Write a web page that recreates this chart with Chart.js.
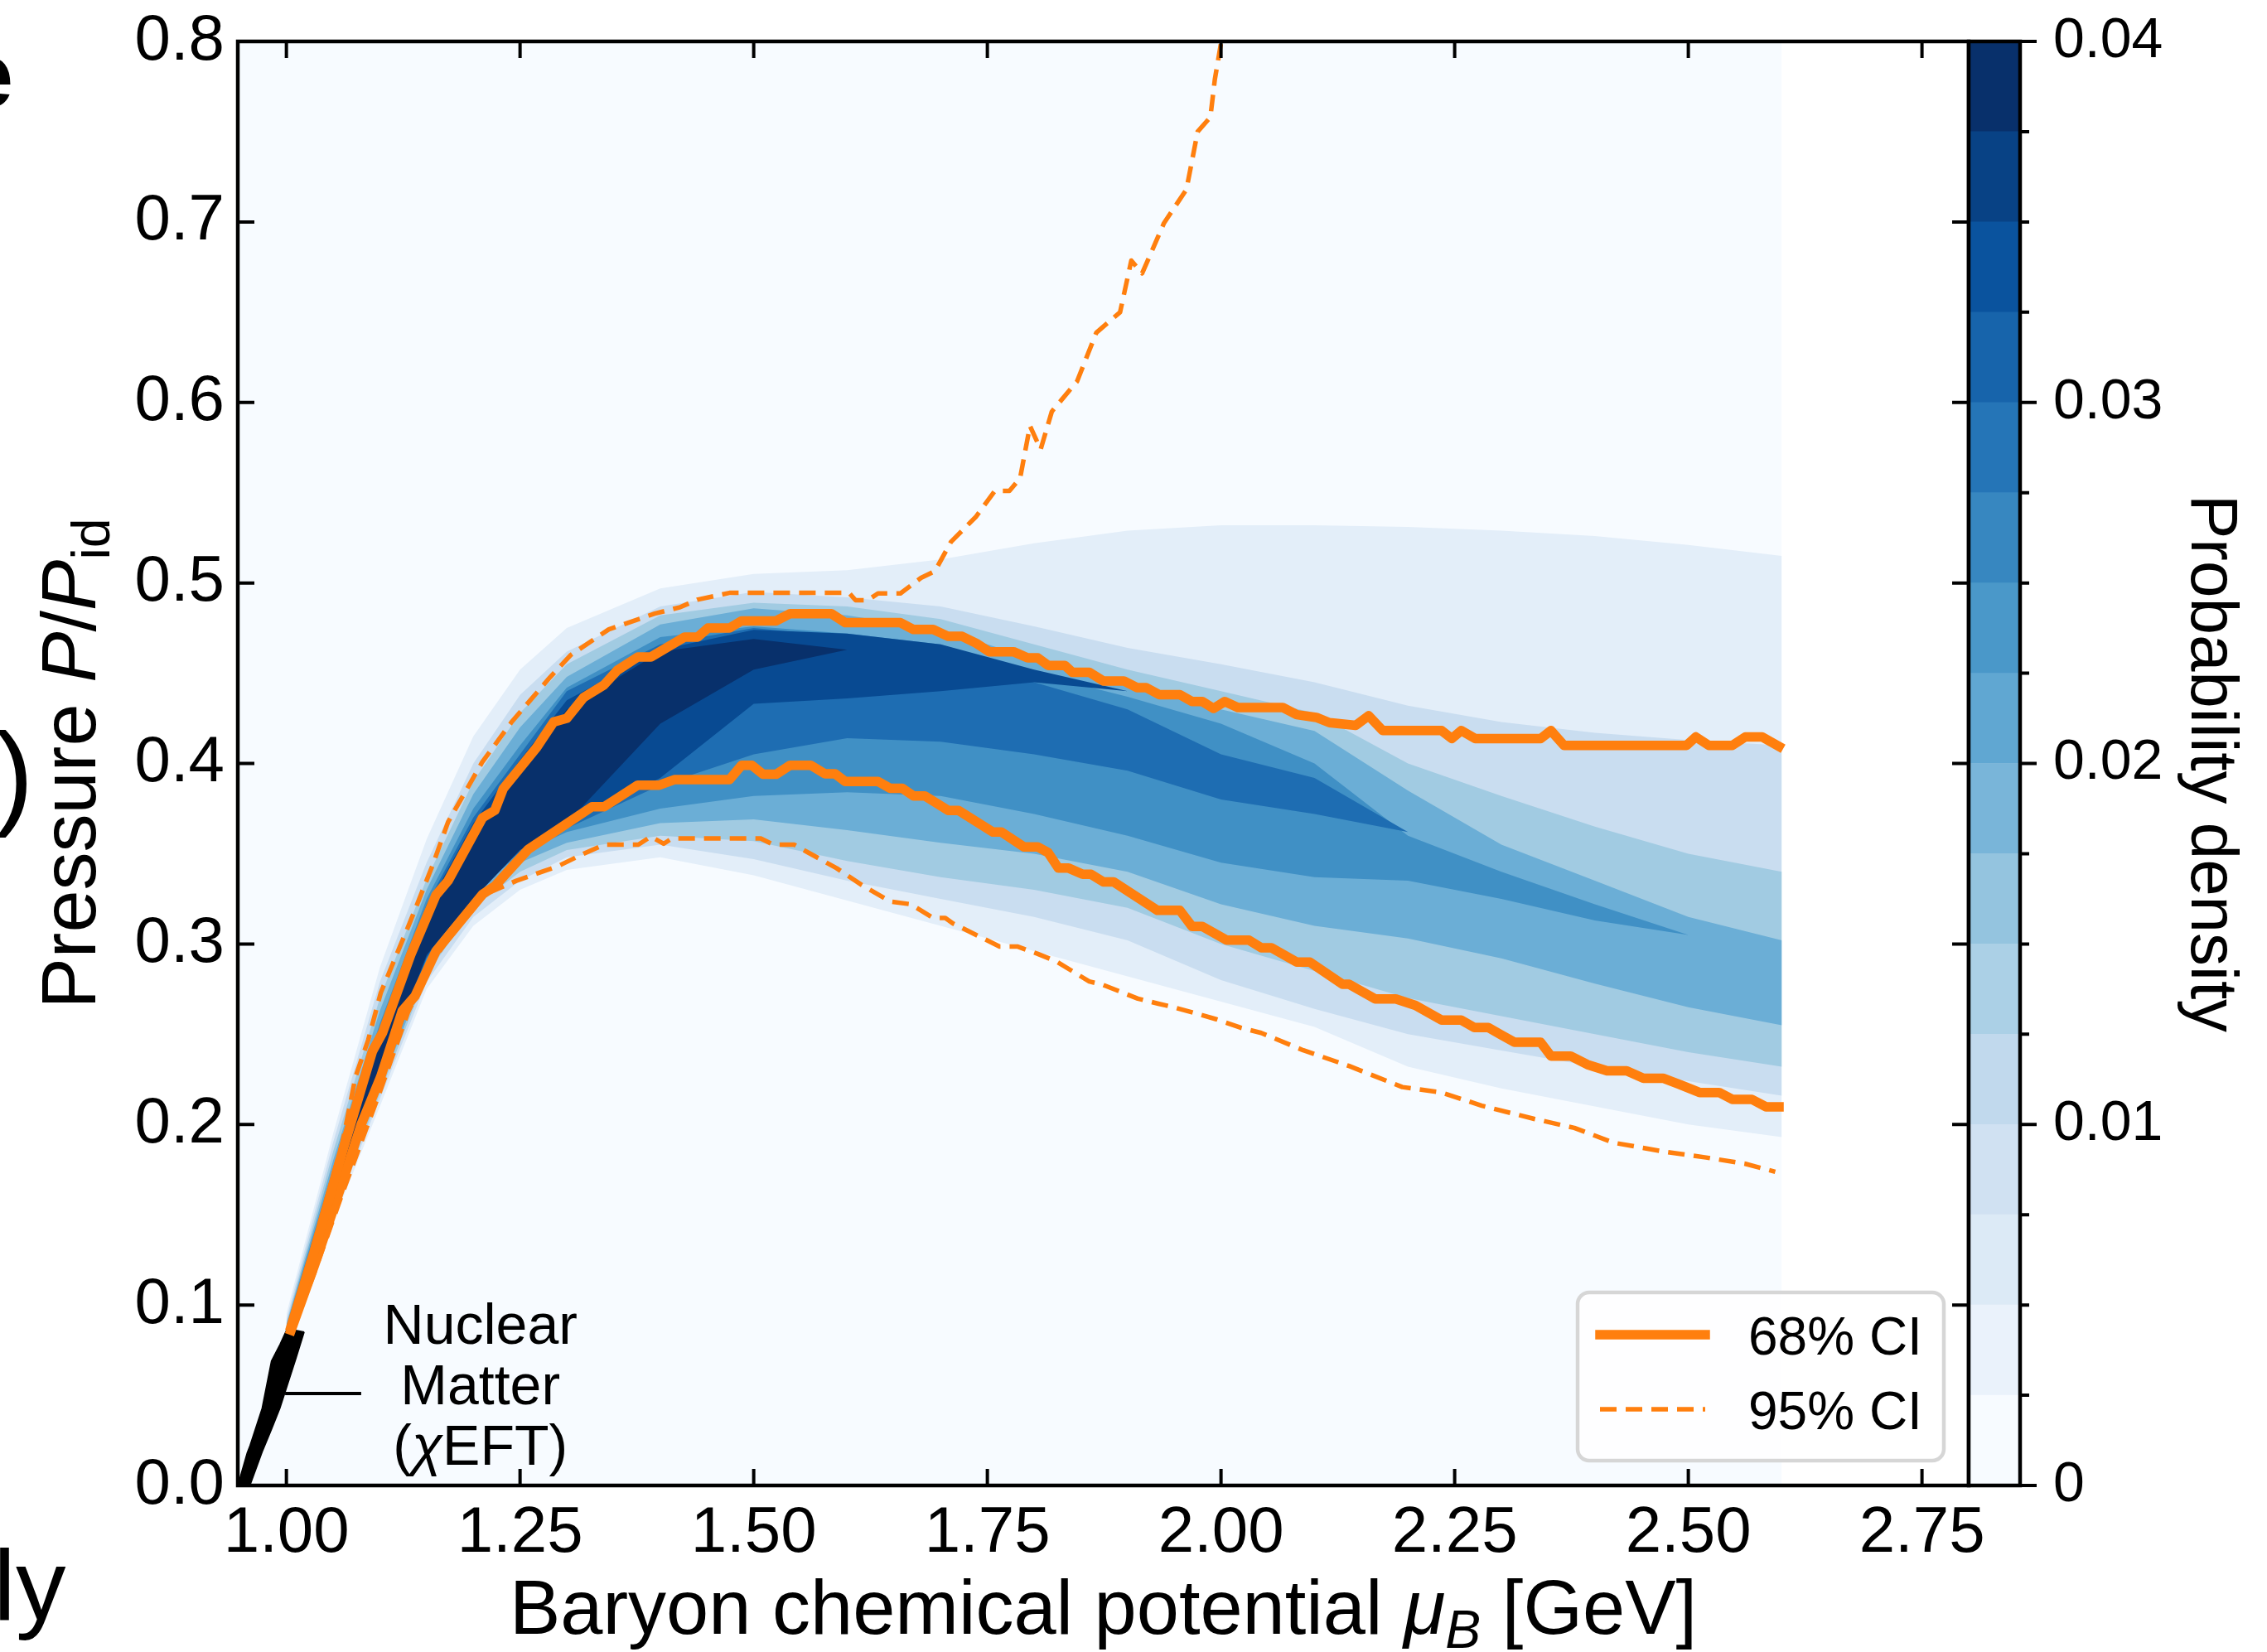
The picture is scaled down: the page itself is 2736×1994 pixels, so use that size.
<!DOCTYPE html>
<html>
<head>
<meta charset="utf-8">
<script src="https://cdn.jsdelivr.net/npm/chart.js@4.4.1/dist/chart.umd.min.js"></script>
<style>
  body { margin: 0; width: 2736px; height: 1994px; position: relative; overflow: hidden; background: #fff; }
  canvas { position: absolute; top: 0; }
  .frag { position: absolute; font-family: 'Liberation Sans', Arial, sans-serif; line-height: 1; color: #000; white-space: nowrap; }
</style>
</head>
<body>
<canvas id="main" width="2736" height="1994" style="left:0"></canvas>
<canvas id="cbar" width="436" height="1994" style="left:2300px"></canvas>
<div class="frag" style="left:-46px; top:35px; font-size:112px; font-weight:bold">e</div>
<div class="frag" style="left:-6px; top:864px; font-size:140px">)</div>
<div class="frag" style="left:-8px; top:1853px; font-size:121px">ly</div>
<script>
const FONT = "'Liberation Sans', Arial, Helvetica, sans-serif";

// axes
const muRange = [0.948, 2.8];
const pressureRange = [0, 0.8];
const muTicks = [1.0, 1.25, 1.5, 1.75, 2.0, 2.25, 2.5, 2.75];
const pressureTicks = [0, 0.1, 0.2, 0.3, 0.4, 0.5, 0.6, 0.7, 0.8];

// colour bar
const densityLevels = [0, 0.0025, 0.005, 0.0075, 0.01, 0.0125, 0.015, 0.0175, 0.02,
  0.0225, 0.025, 0.0275, 0.03, 0.0325, 0.035, 0.0375, 0.04];
const densityTicks = [0, 0.01, 0.02, 0.03, 0.04];

// probability density, drawn as nested level bands (level index into densityLevels)
const heatMuExtent = [0.948, 2.6];
const heatMu = [1.0, 1.05, 1.1, 1.15, 1.2, 1.25, 1.3, 1.4, 1.5, 1.6, 1.7, 1.8, 1.9, 2.0, 2.1, 2.2, 2.3, 2.4, 2.5, 2.6];
const bandLevels = [1, 3, 5, 7, 9, 11, 13, 15];
const band1Hi = [0.095, 0.195, 0.287, 0.358, 0.415, 0.452, 0.475, 0.497, 0.505, 0.507, 0.513, 0.522, 0.529, 0.532, 0.532, 0.531, 0.529, 0.526, 0.521, 0.515];
const band1Lo = [0.082, 0.146, 0.21, 0.275, 0.31, 0.33, 0.341, 0.348, 0.338, 0.324, 0.31, 0.296, 0.282, 0.268, 0.254, 0.232, 0.22, 0.21, 0.2, 0.193];
const band3Hi = [0.092, 0.19, 0.279, 0.345, 0.4, 0.438, 0.462, 0.487, 0.495, 0.492, 0.487, 0.476, 0.464, 0.455, 0.445, 0.432, 0.423, 0.417, 0.413, 0.41];
const band3Lo = [0.083, 0.149, 0.214, 0.279, 0.315, 0.335, 0.348, 0.355, 0.347, 0.335, 0.325, 0.315, 0.302, 0.28, 0.264, 0.25, 0.241, 0.232, 0.224, 0.216];
const band5Hi = [0.09, 0.185, 0.27, 0.336, 0.39, 0.428, 0.455, 0.482, 0.489, 0.487, 0.48, 0.466, 0.452, 0.44, 0.428, 0.4, 0.382, 0.365, 0.35, 0.34];
const band5Lo = [0.084, 0.151, 0.217, 0.283, 0.32, 0.34, 0.352, 0.36, 0.357, 0.346, 0.337, 0.33, 0.32, 0.3, 0.285, 0.27, 0.26, 0.25, 0.24, 0.232];
const band7Hi = [0.089, 0.18, 0.263, 0.33, 0.383, 0.42, 0.448, 0.477, 0.486, 0.482, 0.474, 0.458, 0.443, 0.43, 0.418, 0.385, 0.355, 0.335, 0.315, 0.302];
const band7Lo = [0.0845, 0.153, 0.22, 0.286, 0.324, 0.345, 0.356, 0.367, 0.369, 0.363, 0.356, 0.35, 0.34, 0.322, 0.31, 0.303, 0.292, 0.278, 0.265, 0.255];
const band9Hi = [0.088, 0.176, 0.256, 0.325, 0.375, 0.41, 0.442, 0.47, 0.476, 0.472, 0.466, 0.45, 0.437, 0.422, 0.4, 0.36, 0.34, 0.322, 0.305, 0.3];
const band9Lo = [0.085, 0.155, 0.222, 0.29, 0.328, 0.35, 0.362, 0.375, 0.382, 0.384, 0.382, 0.372, 0.36, 0.345, 0.337, 0.335, 0.325, 0.313, 0.305, 0.3];
const band11Hi = [0.087, 0.172, 0.252, 0.322, 0.37, 0.405, 0.44, 0.466, 0.475, 0.47, 0.462, 0.445, 0.43, 0.405, 0.392, 0.362, 0.345, 0.33, 0.315, 0.305];
const band11Lo = [0.086, 0.156, 0.224, 0.292, 0.33, 0.351, 0.364, 0.388, 0.405, 0.414, 0.412, 0.405, 0.396, 0.38, 0.372, 0.362, 0.345, 0.33, 0.315, 0.305];
const band13Hi = [0.087, 0.171, 0.25, 0.32, 0.367, 0.402, 0.435, 0.463, 0.474, 0.472, 0.466, 0.452, 0.44, 0.39, 0.38, 0.362, 0.345, 0.33, 0.315, 0.305];
const band13Lo = [0.086, 0.157, 0.225, 0.293, 0.332, 0.353, 0.366, 0.392, 0.433, 0.436, 0.44, 0.445, 0.44, 0.39, 0.38, 0.362, 0.345, 0.33, 0.315, 0.305];
const band15Hi = [0.087, 0.168, 0.245, 0.316, 0.358, 0.395, 0.43, 0.462, 0.469, 0.463, 0.46, 0.45, 0.44, 0.39, 0.38, 0.362, 0.345, 0.33, 0.315, 0.305];
const band15Lo = [0.086, 0.158, 0.226, 0.294, 0.325, 0.352, 0.367, 0.422, 0.452, 0.463, 0.46, 0.45, 0.44, 0.39, 0.38, 0.362, 0.345, 0.33, 0.315, 0.305];
const bandEdges = [[band1Hi, band1Lo], [band3Hi, band3Lo], [band5Hi, band5Lo], [band7Hi, band7Lo],
  [band9Hi, band9Lo], [band11Hi, band11Lo], [band13Hi, band13Lo], [band15Hi, band15Lo]];

// credible intervals [mu_B, P/P_id]
const ci68Upper = [[1.005,0.088],[1.03,0.13],[1.06,0.185],[1.092,0.2405],[1.103,0.251],[1.133,0.294],[1.16,0.327],[1.173,0.335],
  [1.21,0.37],[1.223,0.374],[1.232,0.386],[1.268,0.409],[1.286,0.423],[1.3,0.425],[1.318,0.4365],[1.34,0.4436],[1.354,0.4516],
  [1.376,0.459],[1.39,0.459],[1.426,0.47],[1.44,0.47],[1.451,0.475],[1.474,0.475],[1.487,0.479],[1.524,0.479],[1.539,0.483],
  [1.583,0.483],[1.598,0.478],[1.657,0.478],[1.671,0.4742],[1.692,0.4742],[1.708,0.4704],[1.723,0.4704],[1.738,0.4666],
  [1.752,0.4619],[1.778,0.4619],[1.793,0.4585],[1.804,0.4585],[1.815,0.4543],[1.833,0.4543],[1.841,0.4505],[1.859,0.4505],
  [1.874,0.4457],[1.896,0.4457],[1.91,0.442],[1.92,0.442],[1.934,0.4381],[1.956,0.4381],[1.969,0.4343],[1.98,0.4343],
  [1.992,0.4305],[2.004,0.4343],[2.018,0.431],[2.066,0.431],[2.081,0.427],[2.102,0.4255],[2.116,0.4226],[2.144,0.4211],
  [2.158,0.4264],[2.173,0.4182],[2.236,0.4182],[2.247,0.4138],[2.257,0.4182],[2.272,0.4138],[2.342,0.4138],[2.353,0.4182],
  [2.367,0.41],[2.498,0.41],[2.508,0.4147],[2.522,0.41],[2.547,0.41],[2.561,0.4147],[2.579,0.4147],[2.597,0.4094]];
const ci68Lower = [[1.005,0.086],[1.03,0.122],[1.06,0.168],[1.08,0.2],[1.101,0.2265],[1.124,0.263],[1.1375,0.271],[1.16,0.296],
  [1.21,0.3276],[1.223,0.332],[1.237,0.34],[1.259,0.3525],[1.327,0.376],[1.34,0.376],[1.376,0.388],[1.399,0.388],[1.415,0.391],
  [1.474,0.391],[1.487,0.399],[1.498,0.399],[1.51,0.394],[1.524,0.394],[1.539,0.399],[1.561,0.399],[1.576,0.3943],[1.587,0.3943],
  [1.598,0.39],[1.633,0.39],[1.646,0.3862],[1.659,0.3862],[1.671,0.382],[1.683,0.382],[1.708,0.374],[1.719,0.374],[1.756,0.362],
  [1.765,0.362],[1.789,0.3538],[1.804,0.3538],[1.815,0.3506],[1.826,0.342],[1.837,0.342],[1.852,0.3386],[1.861,0.3386],
  [1.874,0.3344],[1.885,0.3344],[1.932,0.3186],[1.956,0.3186],[1.969,0.3097],[1.98,0.3097],[2.006,0.3021],[2.03,0.3021],
  [2.043,0.2979],[2.054,0.2979],[2.081,0.29],[2.095,0.29],[2.13,0.2777],[2.137,0.2777],[2.165,0.2695],[2.187,0.2695],[2.208,0.266],
  [2.236,0.2578],[2.257,0.2578],[2.271,0.2537],[2.286,0.2537],[2.3,0.2496],[2.314,0.2455],[2.342,0.2455],[2.353,0.2379],
  [2.374,0.2379],[2.392,0.2332],[2.413,0.2297],[2.434,0.2297],[2.452,0.2256],[2.473,0.2256],[2.491,0.2221],[2.512,0.2177],
  [2.533,0.2177],[2.547,0.2139],[2.568,0.2139],[2.583,0.2098],[2.597,0.2098]];
const ci95Upper = [[1.005,0.09],[1.03,0.135],[1.06,0.19],[1.074,0.2265],[1.0875,0.2468],[1.101,0.273],[1.1326,0.3125],[1.156,0.343],
  [1.173,0.3676],[1.2095,0.4007],[1.2413,0.4232],[1.282,0.4477],[1.304,0.46],[1.345,0.4743],[1.394,0.483],[1.4215,0.4866],
  [1.4395,0.4907],[1.474,0.4945],[1.602,0.4945],[1.609,0.4904],[1.622,0.4904],[1.633,0.4942],[1.657,0.4942],[1.679,0.5028],
  [1.694,0.5066],[1.711,0.5227],[1.738,0.5368],[1.758,0.551],[1.7736,0.551],[1.785,0.558],[1.7956,0.587],[1.807,0.574],
  [1.819,0.595],[1.846,0.6117],[1.8665,0.6386],[1.892,0.65],[1.904,0.6786],[1.9156,0.6715],[1.939,0.6994],[1.963,0.718],
  [1.975,0.75],[1.9886,0.758],[1.9934,0.779],[2.0003,0.8]];
const ci95Lower = [[1.005,0.084],[1.03,0.118],[1.06,0.162],[1.1,0.218],[1.13,0.262],[1.156,0.29],[1.1826,0.31],[1.2095,0.3267],
  [1.246,0.335],[1.291,0.3432],[1.318,0.35],[1.34,0.355],[1.3766,0.355],[1.39,0.3595],[1.4036,0.3555],[1.4127,0.3585],
  [1.5075,0.3585],[1.521,0.355],[1.5435,0.355],[1.557,0.351],[1.5886,0.342],[1.6155,0.3327],[1.646,0.3235],[1.668,0.322],
  [1.692,0.3144],[1.705,0.3144],[1.713,0.3114],[1.763,0.2986],[1.782,0.2986],[1.804,0.2945],[1.824,0.2903],[1.859,0.2792],
  [1.874,0.2773],[1.911,0.2697],[1.933,0.2669],[1.949,0.265],[1.969,0.2621],[1.995,0.2583],[2.021,0.2536],[2.043,0.2507],
  [2.088,0.2411],[2.137,0.2324],[2.194,0.2207],[2.236,0.2177],[2.279,0.2104],[2.335,0.2031],[2.378,0.1981],[2.42,0.1899],
  [2.477,0.1847],[2.519,0.1817],[2.561,0.1782],[2.593,0.1738]];

// chiral EFT band near saturation
const eftMu = [0.948, 0.958, 0.961, 0.974, 0.984, 0.993, 1.001, 1.01, 1.019];
const eftHi = [0, 0.018, 0.022, 0.0427, 0.069, 0.078, 0.087, 0.086, 0.085];
const eftLo = [0, 0, 0, 0.0185, 0.031, 0.0427, 0.0555, 0.07, 0.085];

// annotation
const noteLines = ['Nuclear', 'Matter', '(χEFT)'];
const noteAnchor = [1.2075, 0.045];
const noteLeaderMu = [0.9986, 1.08];
const noteLeaderP = 0.051;

const ORANGE = '#ff7f0e';
const bluesAnchors = ['#f7fbff', '#deebf7', '#c6dbef', '#9ecae1', '#6baed6', '#4292c6', '#2171b5', '#08519c', '#08306b'];
function blues(t) {
  const p = Math.max(0, Math.min(1, t)) * 8;
  const i = Math.min(7, Math.floor(p));
  const f = p - i;
  const a = bluesAnchors[i], b = bluesAnchors[i + 1];
  const c = k => Math.round(parseInt(a.substr(k, 2), 16) * (1 - f) + parseInt(b.substr(k, 2), 16) * f);
  return `rgb(${c(1)},${c(3)},${c(5)})`;
}
const pts = arr => arr.map(([x, y]) => ({x, y}));

const datasets = [];
datasets.push({
  data: heatMuExtent.map(m => ({x: m, y: pressureRange[1]})),
  fill: 'origin', backgroundColor: blues(0), borderWidth: 0, order: 100
});
bandEdges.forEach(([hi, lo], k) => {
  const lvl = bandLevels[k];
  const col = blues(Math.min(lvl + 0.5, 15) / 15);
  datasets.push({ data: heatMu.map((m, j) => ({x: m, y: hi[j]})), fill: '+1', backgroundColor: col, borderWidth: 0, order: 90 - k });
  datasets.push({ data: heatMu.map((m, j) => ({x: m, y: lo[j]})), fill: false, borderWidth: 0, order: 90 - k });
});
datasets.push({ data: eftMu.map((m, j) => ({x: m, y: eftHi[j]})), fill: '+1', backgroundColor: '#000', borderColor: '#000', borderWidth: 1.5, order: 20 });
datasets.push({ data: eftMu.map((m, j) => ({x: m, y: eftLo[j]})), fill: false, borderColor: '#000', borderWidth: 1.5, order: 20 });
datasets.push({ data: noteLeaderMu.map(m => ({x: m, y: noteLeaderP})), fill: false, borderColor: '#000', borderWidth: 4, order: 19 });
datasets.push({ label: '68% CI', inLegend: true, data: pts(ci68Upper), fill: false, borderColor: ORANGE, borderWidth: 11.5,
  borderJoinStyle: 'round', borderCapStyle: 'square', order: 2 });
datasets.push({ label: '95% CI', inLegend: true, data: pts(ci95Upper), fill: false, borderColor: ORANGE, borderWidth: 5.5,
  borderDash: [20, 11], borderJoinStyle: 'round', borderCapStyle: 'butt', order: 3 });
datasets.push({ data: pts(ci68Lower), fill: false, borderColor: ORANGE, borderWidth: 11.5,
  borderJoinStyle: 'round', borderCapStyle: 'square', order: 2 });
datasets.push({ data: pts(ci95Lower), fill: false, borderColor: ORANGE, borderWidth: 5.5,
  borderDash: [20, 11], borderJoinStyle: 'round', borderCapStyle: 'butt', order: 3 });

function runFont(style, size) {
  const s = style.includes('s') ? size * 0.7 : size;
  return (style.includes('i') ? 'italic ' : '') + s + 'px ' + FONT;
}
function drawRuns(ctx, runs, size, cx, cy, angle) {
  ctx.save();
  ctx.translate(cx, cy);
  ctx.rotate(angle);
  ctx.textAlign = 'left';
  ctx.textBaseline = 'alphabetic';
  ctx.fillStyle = '#000';
  let w = 0;
  runs.forEach(([t, st]) => { ctx.font = runFont(st, size); w += ctx.measureText(t).width; });
  let x = -w / 2;
  runs.forEach(([t, st]) => {
    ctx.font = runFont(st, size);
    ctx.fillText(t, x, st.includes('s') ? size * 0.18 : 0);
    x += ctx.measureText(t).width;
  });
  ctx.restore();
}
// keep the plot box where the reference has it, whatever the label overhang
const noPadV = s => { s.paddingTop = 0; s.paddingBottom = 0; };
const noPadH = s => { s.paddingLeft = 0; s.paddingRight = 0; };

const frame = {
  id: 'frame',
  afterDatasetsDraw(chart) {
    const {ctx, chartArea: a, scales: {x, y}} = chart;
    ctx.save();
    ctx.strokeStyle = '#000';
    ctx.lineWidth = 4;
    ctx.beginPath();
    muTicks.forEach(v => {
      const px = x.getPixelForValue(v);
      ctx.moveTo(px, a.bottom); ctx.lineTo(px, a.bottom - 20);
      ctx.moveTo(px, a.top); ctx.lineTo(px, a.top + 20);
    });
    pressureTicks.forEach(v => {
      const py = y.getPixelForValue(v);
      ctx.moveTo(a.left, py); ctx.lineTo(a.left + 20, py);
      ctx.moveTo(a.right, py); ctx.lineTo(a.right - 20, py);
    });
    ctx.stroke();
    ctx.lineWidth = 4.5;
    ctx.strokeRect(a.left, a.top, a.right - a.left, a.bottom - a.top);
    ctx.restore();
  }
};

const notes = {
  id: 'notes',
  afterDatasetsDraw(chart) {
    const {ctx, scales: {x, y}} = chart;
    const cx = x.getPixelForValue(noteAnchor[0]);
    const cy = y.getPixelForValue(noteAnchor[1]);
    drawRuns(ctx, [[noteLines[0], '']], 68, cx, cy - 73, 0);
    drawRuns(ctx, [[noteLines[1], '']], 68, cx, cy, 0);
    drawRuns(ctx, [['(', ''], ['χ', 'i'], ['EFT)', '']], 68, cx, cy + 73, 0);
  }
};

const ciLegend = {
  id: 'ciLegend',
  afterDraw(chart) {
    const {ctx, chartArea: a} = chart;
    const w = 442, h = 203;
    const left = a.right - 30 - w, top = a.bottom - 30 - h;
    ctx.save();
    ctx.beginPath();
    ctx.roundRect(left, top, w, h, 14);
    ctx.fillStyle = 'rgba(255,255,255,0.8)';
    ctx.fill();
    ctx.lineWidth = 4.5;
    ctx.strokeStyle = '#d6d6d6';
    ctx.stroke();
    chart.data.datasets.filter(d => d.inLegend).forEach((d, i) => {
      const yy = top + 51 + i * 90;
      ctx.beginPath();
      ctx.setLineDash(d.borderDash || []);
      ctx.lineWidth = d.borderWidth;
      ctx.strokeStyle = d.borderColor;
      ctx.lineCap = d.borderDash ? 'butt' : 'square';
      ctx.moveTo(left + 27, yy);
      ctx.lineTo(left + 154, yy);
      ctx.stroke();
      ctx.setLineDash([]);
      ctx.font = '64px ' + FONT;
      ctx.fillStyle = '#000';
      ctx.textBaseline = 'alphabetic';
      ctx.fillText(d.label, left + 206, yy + 24);
    });
    ctx.restore();
  }
};

const axisTitles = {
  id: 'axisTitles',
  afterDraw(chart) {
    const {ctx, chartArea: a} = chart;
    drawRuns(ctx, [['Baryon chemical potential ', ''], ['μ', 'i'], ['B', 'is'], [' [GeV]', '']], 92,
      (a.left + a.right) / 2, a.bottom + 179, 0);
    drawRuns(ctx, [['Pressure ', ''], ['P', 'i'], ['/', ''], ['P', 'i'], ['id', 's']], 92,
      a.left - 172, (a.top + a.bottom) / 2, -Math.PI / 2);
  }
};

new Chart(document.getElementById('main'), {
  type: 'line',
  data: { datasets },
  options: {
    responsive: false,
    animation: false,
    devicePixelRatio: 1,
    events: [],
    layout: { padding: { left: 0, top: 50, right: 360, bottom: 0 } },
    elements: { point: { radius: 0 }, line: { tension: 0 } },
    plugins: { legend: { display: false }, tooltip: { enabled: false } },
    scales: {
      x: {
        type: 'linear', min: muRange[0], max: muRange[1],
        grid: { display: false, drawTicks: false }, border: { display: false },
        afterBuildTicks: s => { s.ticks = muTicks.map(v => ({value: v})); },
        afterFit: s => { s.height = 201; noPadH(s); },
        ticks: { font: { family: FONT, size: 78 }, color: '#000', padding: 12, maxRotation: 0, autoSkip: false,
          callback: v => Number(v).toFixed(2) }
      },
      y: {
        type: 'linear', min: pressureRange[0], max: pressureRange[1],
        grid: { display: false, drawTicks: false }, border: { display: false },
        afterBuildTicks: s => { s.ticks = pressureTicks.map(v => ({value: v})); },
        afterFit: s => { s.width = 287; noPadV(s); },
        ticks: { font: { family: FONT, size: 78 }, color: '#000', padding: 16, autoSkip: false,
          callback: v => Number(v).toFixed(1) }
      }
    }
  },
  plugins: [frame, notes, ciLegend, axisTitles]
});

const cbarFrame = {
  id: 'cbarFrame',
  afterDatasetsDraw(chart) {
    const {ctx, chartArea: a, scales: {y}} = chart;
    ctx.save();
    ctx.strokeStyle = '#000';
    ctx.lineWidth = 4;
    ctx.beginPath();
    densityLevels.forEach(v => {
      const py = y.getPixelForValue(v);
      const major = densityTicks.some(t => Math.abs(t - v) < 1e-9);
      ctx.moveTo(a.right, py);
      ctx.lineTo(a.right + (major ? 20 : 11), py);
    });
    ctx.stroke();
    ctx.lineWidth = 4.5;
    ctx.strokeRect(a.left, a.top, a.right - a.left, a.bottom - a.top);
    ctx.restore();
  }
};

new Chart(document.getElementById('cbar'), {
  type: 'bar',
  data: {
    labels: [''],
    datasets: densityLevels.slice(0, -1).map((lo, i) => ({
      data: [[lo, densityLevels[i + 1]]],
      backgroundColor: blues(i / 15),
      borderWidth: 0, barPercentage: 1, categoryPercentage: 1, grouped: false
    }))
  },
  options: {
    responsive: false,
    animation: false,
    devicePixelRatio: 1,
    events: [],
    layout: { padding: { left: 76, top: 50, right: 0, bottom: 201 } },
    plugins: { legend: { display: false }, tooltip: { enabled: false } },
    scales: {
      x: { display: false },
      y: {
        position: 'right', min: 0, max: 0.04,
        grid: { display: false, drawTicks: false }, border: { display: false },
        afterBuildTicks: s => { s.ticks = densityTicks.map(v => ({value: v})); },
        afterFit: s => { s.width = 298; noPadV(s); },
        ticks: { font: { family: FONT, size: 68 }, color: '#000', padding: 40,
          callback: v => (v === 0 ? '0' : Number(v).toFixed(2)) },
        title: { display: true, text: 'Probability density', color: '#000',
          font: { family: FONT, size: 80 }, padding: { top: 21, bottom: 0 } }
      }
    }
  },
  plugins: [cbarFrame]
});
</script>
</body>
</html>
